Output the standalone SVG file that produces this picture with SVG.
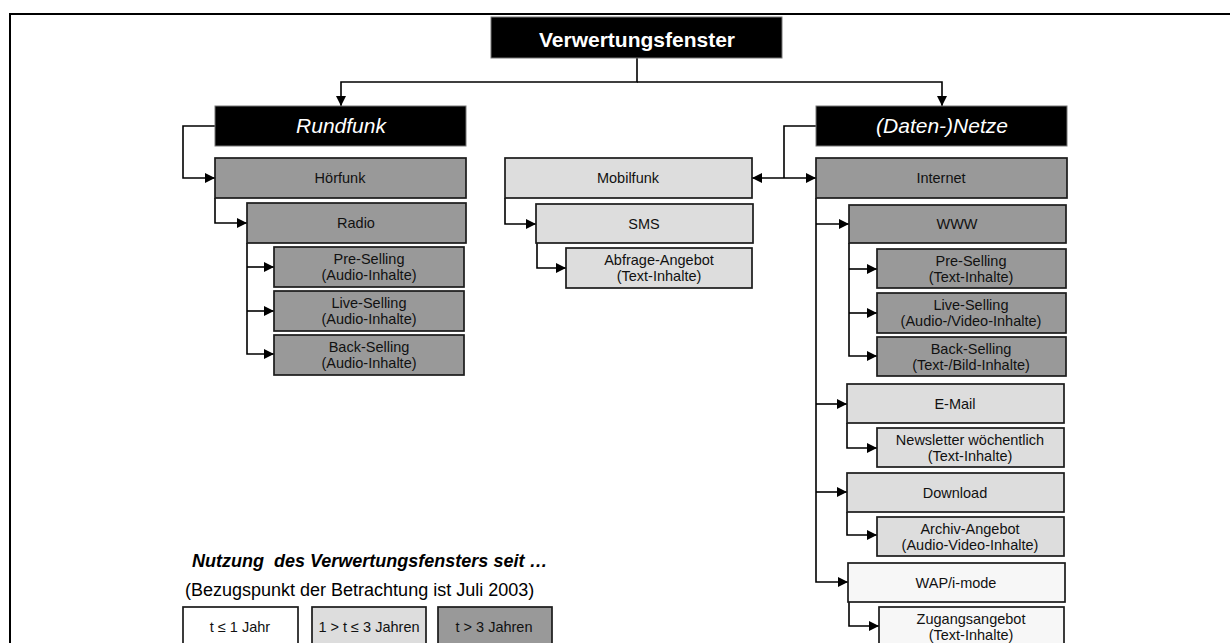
<svg xmlns="http://www.w3.org/2000/svg" width="1230" height="643" viewBox="0 0 1230 643">
<style>
text{font-family:"Liberation Sans",Arial,sans-serif;text-anchor:middle;fill:#111}
.lbl{font-size:14.5px}
.hdr{fill:#000;stroke:#777;stroke-width:1}
.hdrt{fill:#fff;font-size:21px;font-style:italic}
.dk{fill:#999999;stroke:#1a1a1a;stroke-width:1.7}
.lt{fill:#dddddd;stroke:#1a1a1a;stroke-width:1.7}
.wh{fill:#f7f7f7;stroke:#1a1a1a;stroke-width:1.7}
.lw{fill:#ffffff;stroke:#1a1a1a;stroke-width:1.7}
.con{fill:none;stroke:#000;stroke-width:1.6}
.ar{marker-end:url(#arr)}
</style>
<defs>
<marker id="arr" viewBox="0 0 10 10" refX="10" refY="5" markerWidth="10" markerHeight="10" markerUnits="userSpaceOnUse" orient="auto-start-reverse">
<path d="M0,0 L10,5 L0,10 z" fill="#000"/>
</marker>
</defs>
<path d="M10,643 V14 H1230" fill="none" stroke="#000" stroke-width="2"/>

<g id="connectors">
<path class="con ar" d="M637,58 V82 H341 V106"/>
<path class="con ar" d="M637,82 H942 V106"/>
<path class="con ar" d="M215,126 H183 V178 H215"/>
<path class="con ar" d="M215,198 V223 H247"/>
<path class="con ar" d="M247,243 V354 H274"/>
<path class="con ar" d="M247,267 H274"/>
<path class="con ar" d="M247,311 H274"/>
<path class="con" d="M816,126 H784 V178"/>
<path class="con" d="M752,178 H816" marker-start="url(#arr)" marker-end="url(#arr)"/>
<path class="con ar" d="M505,198 V224 H536"/>
<path class="con ar" d="M537,243 V268 H566"/>
<path class="con ar" d="M816,198 V582 H848"/>
<path class="con ar" d="M816,224 H849"/>
<path class="con ar" d="M816,404 H847"/>
<path class="con ar" d="M816,492 H847"/>
<path class="con ar" d="M849,243 V356 H877"/>
<path class="con ar" d="M849,269 H877"/>
<path class="con ar" d="M849,313 H877"/>
<path class="con ar" d="M847,423 V448 H877"/>
<path class="con ar" d="M847,512 V535 H877"/>
<path class="con ar" d="M849,602 V626 H879"/>
</g>

<g id="verwertungsfenster"><rect class="hdr" x="491" y="17" width="291" height="41"/><text x="637" y="47" style="fill:#fff;font-size:21px;font-weight:bold">Verwertungsfenster</text></g>
<g id="rundfunk"><rect class="hdr" x="215" y="106" width="251" height="40"/><text class="hdrt" x="341" y="133">Rundfunk</text></g>
<g id="netze"><rect class="hdr" x="816" y="106" width="251" height="40"/><text class="hdrt" x="942" y="133">(Daten-)Netze</text></g>

<g id="hoerfunk"><rect class="dk" x="215" y="158" width="251" height="40"/><text class="lbl" x="340" y="183">Hörfunk</text></g>
<g id="radio"><rect class="dk" x="247" y="203" width="219" height="40"/><text class="lbl" x="356" y="228">Radio</text></g>
<g id="radio-pre"><rect class="dk" x="274" y="247" width="190" height="40"/><text class="lbl" x="369" y="264">Pre-Selling</text><text class="lbl" x="369" y="280">(Audio-Inhalte)</text></g>
<g id="radio-live"><rect class="dk" x="274" y="291" width="190" height="40"/><text class="lbl" x="369" y="308">Live-Selling</text><text class="lbl" x="369" y="324">(Audio-Inhalte)</text></g>
<g id="radio-back"><rect class="dk" x="274" y="335" width="190" height="40"/><text class="lbl" x="369" y="352">Back-Selling</text><text class="lbl" x="369" y="368">(Audio-Inhalte)</text></g>

<g id="mobilfunk"><rect class="lt" x="505" y="158" width="247" height="40"/><text class="lbl" x="628" y="183">Mobilfunk</text></g>
<g id="sms"><rect class="lt" x="536" y="204" width="217" height="39"/><text class="lbl" x="644" y="229">SMS</text></g>
<g id="abfrage"><rect class="lt" x="566" y="248" width="186" height="40"/><text class="lbl" x="659" y="265">Abfrage-Angebot</text><text class="lbl" x="659" y="281">(Text-Inhalte)</text></g>

<g id="internet"><rect class="dk" x="816" y="158" width="251" height="40"/><text class="lbl" x="941" y="183">Internet</text></g>
<g id="www"><rect class="dk" x="849" y="205" width="217" height="38"/><text class="lbl" x="957" y="229">WWW</text></g>
<g id="www-pre"><rect class="dk" x="877" y="249" width="189" height="39"/><text class="lbl" x="971" y="266">Pre-Selling</text><text class="lbl" x="971" y="282">(Text-Inhalte)</text></g>
<g id="www-live"><rect class="dk" x="877" y="293" width="189" height="40"/><text class="lbl" x="971" y="310">Live-Selling</text><text class="lbl" x="971" y="326">(Audio-/Video-Inhalte)</text></g>
<g id="www-back"><rect class="dk" x="877" y="337" width="189" height="39"/><text class="lbl" x="971" y="354">Back-Selling</text><text class="lbl" x="971" y="370">(Text-/Bild-Inhalte)</text></g>
<g id="email"><rect class="lt" x="847" y="384" width="217" height="39"/><text class="lbl" x="955" y="409">E-Mail</text></g>
<g id="newsletter"><rect class="lt" x="877" y="428" width="187" height="39"/><text class="lbl" x="970" y="445">Newsletter wöchentlich</text><text class="lbl" x="970" y="461">(Text-Inhalte)</text></g>
<g id="download"><rect class="lt" x="847" y="473" width="217" height="39"/><text class="lbl" x="955" y="498">Download</text></g>
<g id="archiv"><rect class="lt" x="877" y="517" width="187" height="39"/><text class="lbl" x="970" y="534">Archiv-Angebot</text><text class="lbl" x="970" y="550">(Audio-Video-Inhalte)</text></g>
<g id="wap"><rect class="wh" x="848" y="563" width="217" height="39"/><text class="lbl" x="956" y="588">WAP/i-mode</text></g>
<g id="zugang"><rect class="wh" x="879" y="607" width="185" height="41"/><text class="lbl" x="971" y="624">Zugangsangebot</text><text class="lbl" x="971" y="640">(Text-Inhalte)</text></g>

<g id="legend">
<text x="192" y="567" style="text-anchor:start;font-size:18px;font-weight:bold;font-style:italic;fill:#000;white-space:pre">Nutzung  des Verwertungsfensters seit …</text>
<text x="185" y="596" style="text-anchor:start;font-size:18px;fill:#000">(Bezugspunkt der Betrachtung ist Juli 2003)</text>
<rect class="lw" x="183" y="607" width="115" height="50"/><text class="lbl" x="240" y="632">t ≤ 1 Jahr</text>
<rect class="lt" x="312" y="607" width="114" height="50"/><text class="lbl" x="369" y="632">1 &gt; t ≤ 3 Jahren</text>
<rect class="dk" x="438" y="607" width="114" height="50"/><text class="lbl" x="494" y="632">t &gt; 3 Jahren</text>
</g>
</svg>
